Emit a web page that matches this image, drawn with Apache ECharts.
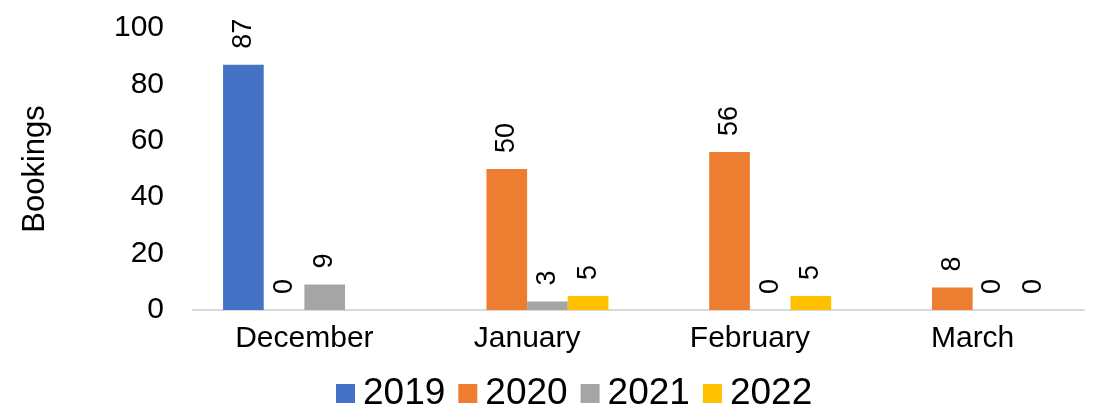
<!DOCTYPE html>
<html>
<head>
<meta charset="utf-8">
<title>Bookings by month</title>
<script src="https://cdn.jsdelivr.net/npm/echarts@6/dist/echarts.min.js"></script>
<style>
  html, body { margin: 0; padding: 0; background: #fff; }
  #chart { width: 1102px; height: 407px; }
</style>
</head>
<body>
<div id="chart"></div>
<script>
// Months on the category axis
const months = ['December', 'January', 'February', 'March'];
// Bookings per season year; null = no bar and no label
const bookings2019 = [87, null, null, null];
const bookings2020 = [0, 50, 56, 8];
const bookings2021 = [9, 3, 0, 0];
const bookings2022 = [null, 5, 5, 0];
const seriesNames = ['2019', '2020', '2021', '2022'];
const seriesColors = ['#4472C4', '#ED7D31', '#A5A5A5', '#FFC000'];
const yTicks = { min: 0, max: 100, interval: 20 };

const FONT = '"Liberation Sans", Arial, sans-serif';

const chart = echarts.init(document.getElementById('chart'), null, { renderer: 'canvas' });

function barSeries(name, data, color) {
  return {
    name: name,
    type: 'bar',
    data: data,
    barGap: '0%',
    barCategoryGap: '27%',
    itemStyle: { color: color },
    label: {
      show: true,
      position: 'top',
      rotate: 90,
      align: 'left',
      verticalAlign: 'middle',
      distance: 16,
      color: '#000',
      fontFamily: FONT,
      fontSize: 27,
      formatter: (p) => (p.value == null ? '' : String(p.value))
    }
  };
}

chart.setOption({
  animation: false,
  backgroundColor: '#fff',
  textStyle: { fontFamily: FONT, color: '#000' },
  grid: { left: 193, right: 18, top: 28, bottom: 97, containLabel: false },
  legend: {
    data: seriesNames,
    left: 336,
    top: 375,
    padding: 0,
    itemWidth: 19,
    itemHeight: 19,
    itemGap: 13,
    icon: 'rect',
    textStyle: { fontFamily: FONT, fontSize: 37, color: '#000', padding: [0, 0, 0, 3] }
  },
  xAxis: {
    type: 'category',
    data: months,
    axisLine: { show: true, lineStyle: { color: '#D9D9D9', width: 2 } },
    axisTick: { show: false },
    axisLabel: { color: '#000', fontFamily: FONT, fontSize: 30, margin: 14 },
    splitLine: { show: false }
  },
  yAxis: {
    type: 'value',
    min: yTicks.min,
    max: yTicks.max,
    interval: yTicks.interval,
    name: 'Bookings',
    nameLocation: 'middle',
    nameGap: 142,
    nameTextStyle: { color: '#000', fontFamily: FONT, fontSize: 31 },
    axisLine: { show: false },
    axisTick: { show: false },
    axisLabel: { color: '#000', fontFamily: FONT, fontSize: 30, margin: 29 },
    splitLine: { show: false }
  },
  series: [
    barSeries(seriesNames[0], bookings2019, seriesColors[0]),
    barSeries(seriesNames[1], bookings2020, seriesColors[1]),
    barSeries(seriesNames[2], bookings2021, seriesColors[2]),
    barSeries(seriesNames[3], bookings2022, seriesColors[3])
  ]
});
</script>
</body>
</html>
